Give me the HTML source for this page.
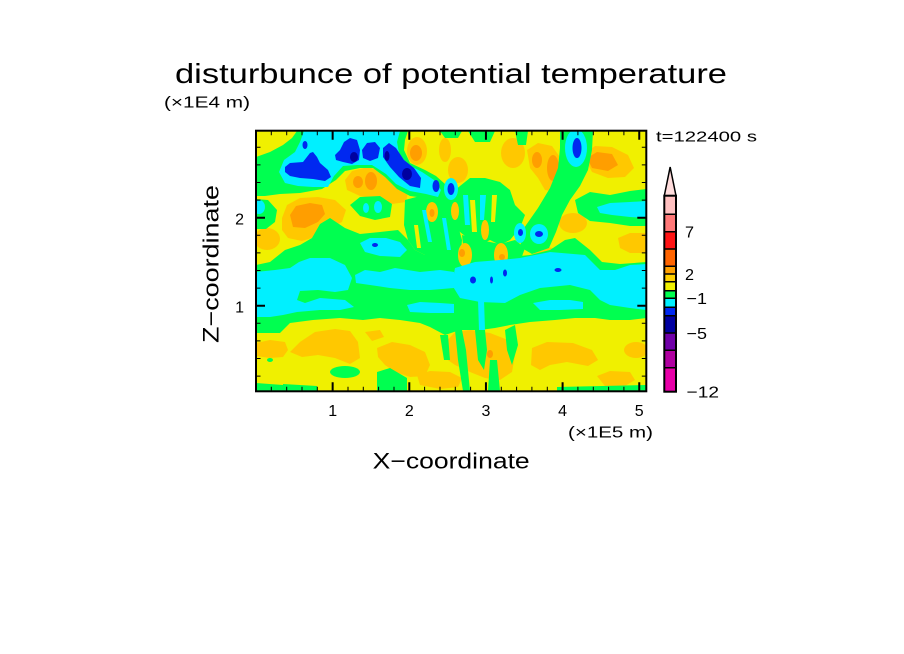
<!DOCTYPE html>
<html><head><meta charset="utf-8"><style>
html,body{margin:0;padding:0;background:#fff;}
svg{display:block;}
text{font-family:"Liberation Sans",sans-serif;fill:#000;}
</style></head><body>
<svg width="904" height="654" viewBox="0 0 904 654" xmlns="http://www.w3.org/2000/svg">
<defs><clipPath id="cp"><rect x="256" y="130.7" width="390.3" height="260.6"/></clipPath></defs>
<rect width="904" height="654" fill="#fff"/>
<text x="175" y="83" font-size="27.5" textLength="552" lengthAdjust="spacingAndGlyphs">disturbunce of potential temperature</text>
<text x="164" y="107.5" font-size="15.5" textLength="86" lengthAdjust="spacingAndGlyphs">(×1E4 m)</text>
<text x="656" y="141.7" font-size="15" textLength="101" lengthAdjust="spacingAndGlyphs">t=122400 s</text>

<g clip-path="url(#cp)">
<rect x="250" y="125" width="400" height="270" fill="#F0F000"/>
<!-- light orange -->
<g fill="#FFC800">
<ellipse cx="417" cy="151" rx="10" ry="14"/>
<polygon points="345,180 352,171 368,167 385,172 400,182 408,192 406,202 392,204 375,199 360,196 347,190"/>
<polygon points="282,218 287,205 300,198 318,197 335,200 346,210 342,222 330,228 318,236 302,241 288,238 282,230"/>
<ellipse cx="267" cy="239" rx="13" ry="11"/>
<ellipse cx="328" cy="240" rx="9" ry="6"/>
<polygon points="527,150 538,143 552,146 562,160 562,180 556,192 545,190 538,178 530,168"/>
<ellipse cx="513" cy="153" rx="12" ry="15"/>
<polygon points="583,155 595,146 612,147 628,155 634,168 625,177 608,178 592,172"/>
<ellipse cx="458" cy="170" rx="10" ry="13"/>
<ellipse cx="573" cy="223" rx="14" ry="10"/>
<polygon points="618,238 630,233 647,233 647,253 630,253 620,248"/>
<ellipse cx="545" cy="252" rx="12" ry="5"/>
<ellipse cx="445" cy="150" rx="6" ry="12"/>
<polygon points="256,343 270,340 285,342 288,350 283,357 270,358 256,356"/>
<polygon points="290,352 300,342 315,332 335,329 350,331 358,342 360,358 350,364 335,358 318,355 302,357"/>
<polygon points="365,332 380,330 384,337 372,341"/>
<polygon points="377,348 392,342 410,345 425,352 430,365 425,376 410,377 395,372 385,365 378,357"/>
<polygon points="443,345 455,332 470,330 490,333 508,340 515,355 512,372 500,380 485,378 470,372 455,365 445,358"/>
<polygon points="532,348 547,342 573,343 592,350 598,360 588,366 567,362 550,365 540,370 531,365"/>
<polygon points="597,376 610,371 630,372 635,380 625,386 605,386"/>
<ellipse cx="636" cy="350" rx="12" ry="8"/>
<polygon points="417,375 430,371 450,372 462,378 458,387 440,389 420,385"/>
</g>
<!-- dark orange -->
<g fill="#FF9E00">
<ellipse cx="416" cy="153" rx="6" ry="8"/>
<ellipse cx="358" cy="182" rx="5" ry="6"/>
<ellipse cx="371" cy="181" rx="6" ry="9"/>
<polygon points="290,215 296,206 310,203 322,205 325,214 318,222 305,228 293,227"/>
<ellipse cx="537" cy="160" rx="5" ry="8"/>
<ellipse cx="553" cy="168" rx="6" ry="13"/>
<polygon points="587,158 597,152 612,154 618,165 608,171 592,168"/>
<ellipse cx="490" cy="354" rx="3" ry="4"/>
</g>
<!-- green -->
<g fill="#00FF50">
<polygon points="256,157 270,152 283,145 292,138 297,131 408,131 405,140 404,150 410,163 425,170 436,176 445,184 448,196 440,201 425,198 410,196 397,189 385,177 373,168 360,168 345,171 336,180 322,189 300,193 280,194 265,196 256,196"/>
<polygon points="350,205 360,197 380,196 392,204 390,217 375,220 360,216"/>
<polygon points="256,199 268,200 277,210 275,222 266,229 256,229"/>
<polygon points="440,131 462,131 458,138 445,138"/>
<polygon points="468,131 495,131 490,142 475,142"/>
<polygon points="515,131 528,131 526,145 518,145"/>
<polygon points="560,131 593,131 592,150 588,170 580,186 570,200 562,215 556,232 549,248 532,254 520,247 524,228 538,208 550,188 558,168 560,148"/>
<polygon points="575,200 590,192 610,195 630,191 647,189 647,226 630,226 610,223 590,221 578,213"/>
<polygon points="440,200 448,196 460,186 470,178 485,178 500,182 510,190 515,205 525,215 520,228 510,240 500,245 490,240 480,245 470,240 460,232 450,222 442,212"/>
<polygon points="405,200 420,196 440,200 455,215 462,240 460,262 440,258 425,255 415,250 408,240 404,225"/>
<polygon points="462,235 480,240 500,244 515,240 525,248 520,262 500,265 480,265 465,263"/>
<polygon points="256,265 270,262 285,250 300,245 312,238 320,224 330,218 345,228 360,234 380,232 398,230 408,240 415,250 425,255 440,250 455,245 470,262 490,262 510,257 530,255 550,250 565,240 575,238 590,250 602,262 620,264 647,262 647,318 630,320 610,320 595,318 575,318 555,320 530,322 510,325 495,328 480,330 460,330 445,335 430,327 420,323 400,320 380,318 363,320 340,318 313,320 290,323 280,333 256,333"/>
<polygon points="455,330 462,330 466,350 470,391 463,391 458,360"/>
<polygon points="475,330 485,330 487,350 484,370 478,360"/>
<polygon points="490,360 497,360 500,391 488,391"/>
<polygon points="505,330 515,325 518,345 512,365 507,350"/>
<polygon points="440,335 448,335 450,360 444,360"/>
<ellipse cx="345" cy="372" rx="15" ry="6"/>
<polygon points="256,383 283,385 283,392 256,392"/>
<polygon points="283,384 317,386 317,392 283,392"/>
<polygon points="377,372 390,368 407,378 407,392 377,392"/>
<polygon points="557,387 647,385 647,392 557,392"/>
<ellipse cx="270" cy="360" rx="3" ry="2"/>
</g>
<!-- fan orange streaks on top of green -->
<g fill="#FFC800">
<ellipse cx="465" cy="255" rx="7" ry="12"/>
<ellipse cx="501" cy="255" rx="7" ry="12"/>
<ellipse cx="455" cy="211" rx="4" ry="9"/>
<ellipse cx="432" cy="212" rx="6" ry="10"/>
<ellipse cx="485" cy="230" rx="4" ry="10"/>
</g>
<g fill="#FF9E00">
<ellipse cx="462" cy="253" rx="3" ry="4"/>
<ellipse cx="502" cy="257" rx="3" ry="3"/>
<ellipse cx="432" cy="213" rx="2.5" ry="4"/>
</g>
<g fill="#F0F000">
<polygon points="470,200 475,200 477,232 472,232"/>
<polygon points="492,195 497,195 495,222 491,222"/>
<polygon points="414,225 418,225 421,248 417,248"/>
</g>
<!-- cyan -->
<g fill="#00F0FF">
<polygon points="279,172 284,160 295,152 300,142 304,131 400,131 397,142 399,153 407,164 422,172 434,180 441,190 438,197 426,194 410,191 396,184 386,174 372,165 357,165 343,166 334,176 328,187 313,187 298,186 285,183"/>
<ellipse cx="259" cy="207" rx="6" ry="7"/>
<ellipse cx="366" cy="208" rx="3" ry="5"/>
<ellipse cx="378" cy="207" rx="4" ry="6"/>
<polygon points="360,243 370,238 386,238 400,242 407,250 400,257 380,256 365,252"/>
<polygon points="256,272 275,270 290,268 299,262 310,258 330,258 345,265 352,278 348,290 335,292 318,290 300,291 297,300 305,303 320,298 345,300 354,307 340,310 320,310 297,312 283,315 270,317 256,317"/>
<polygon points="355,275 365,270 380,272 395,268 420,272 440,270 454,272 454,288 430,290 410,290 390,288 370,285 356,283"/>
<polygon points="407,305 420,302 440,303 454,304 454,313 430,313 410,312"/>
<polygon points="455,268 475,262 500,260 520,258 550,252 585,255 595,265 600,270 615,270 630,265 647,264 647,310 630,308 610,305 600,300 590,290 570,285 540,288 520,295 505,303 480,302 460,298 452,285"/>
<polygon points="533,303 550,300 570,300 583,302 583,309 560,310 540,310"/>
<polygon points="597,207 610,203 630,202 647,201 647,218 630,217 612,215 600,213"/>
<ellipse cx="451" cy="189" rx="7" ry="11"/>
<ellipse cx="520" cy="233" rx="6" ry="10"/>
<ellipse cx="539" cy="234" rx="9" ry="10"/>
<ellipse cx="576" cy="148" rx="11" ry="19"/>
<polygon points="463,195 468,195 470,225 465,225"/>
<polygon points="480,195 486,195 484,220 480,220"/>
<polygon points="478,300 484,300 485,330 479,330"/>
<polygon points="422,210 426,210 432,242 428,242"/>
<polygon points="442,218 446,218 451,250 447,250"/>
</g>
<!-- blue -->
<g fill="#0028F0">
<polygon points="285,167 290,163 303,162 310,153 313,152 317,157 320,163 328,170 331,177 325,181 313,179 300,178 290,176 285,172"/>
<ellipse cx="305" cy="145" rx="2.5" ry="4"/>
<polygon points="335,155 340,150 344,142 350,138 357,140 360,150 359,160 352,164 343,162 336,160"/>
<polygon points="362,150 367,143 375,142 380,148 378,158 370,161 363,158"/>
<polygon points="383,148 389,143 396,148 404,160 414,168 421,178 420,188 410,186 399,177 390,167 383,157"/>
<ellipse cx="436" cy="186" rx="3.5" ry="6"/>
<ellipse cx="451" cy="189" rx="3.5" ry="6"/>
<ellipse cx="577" cy="148" rx="4.5" ry="10"/>
<ellipse cx="520.5" cy="232.5" rx="2.5" ry="3.5"/>
<ellipse cx="539" cy="234" rx="4" ry="3"/>
<ellipse cx="375" cy="245" rx="3" ry="2"/>
<ellipse cx="473" cy="280" rx="3" ry="3.5"/>
<ellipse cx="491.5" cy="280" rx="1.5" ry="3.5"/>
<ellipse cx="505" cy="273" rx="2" ry="3.5"/>
<ellipse cx="558" cy="270" rx="3.5" ry="2"/>
</g>
<g fill="#0000A0">
<ellipse cx="354" cy="157" rx="4" ry="5"/>
<ellipse cx="387" cy="156" rx="2.5" ry="5"/>
<ellipse cx="407" cy="174" rx="5" ry="6"/>
</g>
</g>

<!-- frame -->
<rect x="256" y="130.7" width="390.3" height="260.6" fill="none" stroke="#000" stroke-width="2"/>
<!-- ticks -->
<g stroke="#000" stroke-width="1">
<path d="M271.3,391.3v-4.5M286.7,391.3v-4.5M302,391.3v-4.5M317.3,391.3v-4.5M348,391.3v-4.5M363.3,391.3v-4.5M378.6,391.3v-4.5M394,391.3v-4.5M424.6,391.3v-4.5M440,391.3v-4.5M455.3,391.3v-4.5M470.6,391.3v-4.5M501.3,391.3v-4.5M516.6,391.3v-4.5M531.9,391.3v-4.5M547.3,391.3v-4.5M577.9,391.3v-4.5M593.3,391.3v-4.5M608.6,391.3v-4.5M623.9,391.3v-4.5"/>
<path d="M271.3,130.7v4.5M286.7,130.7v4.5M302,130.7v4.5M317.3,130.7v4.5M348,130.7v4.5M363.3,130.7v4.5M378.6,130.7v4.5M394,130.7v4.5M424.6,130.7v4.5M440,130.7v4.5M455.3,130.7v4.5M470.6,130.7v4.5M501.3,130.7v4.5M516.6,130.7v4.5M531.9,130.7v4.5M547.3,130.7v4.5M577.9,130.7v4.5M593.3,130.7v4.5M608.6,130.7v4.5M623.9,130.7v4.5"/>
<path d="M256,376.1h4.5M256,358.5h4.5M256,340.9h4.5M256,323.3h4.5M256,288.1h4.5M256,270.5h4.5M256,252.9h4.5M256,235.3h4.5M256,200.1h4.5M256,182.5h4.5M256,164.9h4.5M256,147.3h4.5"/>
<path d="M646.3,376.1h-4.5M646.3,358.5h-4.5M646.3,340.9h-4.5M646.3,323.3h-4.5M646.3,288.1h-4.5M646.3,270.5h-4.5M646.3,252.9h-4.5M646.3,235.3h-4.5M646.3,200.1h-4.5M646.3,182.5h-4.5M646.3,164.9h-4.5M646.3,147.3h-4.5"/>
</g>
<g stroke="#000" stroke-width="2">
<path d="M332.65,391.3v-9M409.3,391.3v-9M485.95,391.3v-9M562.6,391.3v-9M639.25,391.3v-9"/>
<path d="M332.65,130.7v9M409.3,130.7v9M485.95,130.7v9M562.6,130.7v9M639.25,130.7v9"/>
<path d="M256,305.7h9M256,217.7h9M646.3,305.7h-9M646.3,217.7h-9"/>
</g>
<!-- tick labels -->
<g font-size="16" text-anchor="middle">
<text x="332.65" y="416">1</text>
<text x="409.3" y="416">2</text>
<text x="485.95" y="416">3</text>
<text x="562.6" y="416">4</text>
<text x="639.25" y="416">5</text>
</g>
<g font-size="16" text-anchor="end">
<text x="244" y="312.5">1</text>
<text x="244" y="224.5">2</text>
</g>
<text x="568" y="437.5" font-size="15.5" textLength="85" lengthAdjust="spacingAndGlyphs">(×1E5 m)</text>
<text x="372.7" y="468.3" font-size="22" textLength="157" lengthAdjust="spacingAndGlyphs">X−coordinate</text>
<text transform="translate(218.5,264) rotate(-90)" x="0" y="0" font-size="22" text-anchor="middle" textLength="158" lengthAdjust="spacingAndGlyphs">Z−coordinate</text>

<!-- colorbar -->
<g>
<polygon points="664.3,195.7 676,195.7 670.15,167" fill="#FFDCDC" stroke="#000" stroke-width="1.5"/>
<rect x="664.3" y="195.7" width="11.7" height="18.6" fill="#FFC0C0"/>
<rect x="664.3" y="214.3" width="11.7" height="17.4" fill="#FF7878"/>
<rect x="664.3" y="231.7" width="11.7" height="17.3" fill="#FF1414"/>
<rect x="664.3" y="249" width="11.7" height="17.3" fill="#FF6400"/>
<rect x="664.3" y="266.3" width="11.7" height="7.7" fill="#FFA000"/>
<rect x="664.3" y="274" width="11.7" height="7.7" fill="#FFD000"/>
<rect x="664.3" y="281.7" width="11.7" height="9" fill="#F0F000"/>
<rect x="664.3" y="290.7" width="11.7" height="7.6" fill="#00FF50"/>
<rect x="664.3" y="298.3" width="11.7" height="9" fill="#00F0FF"/>
<rect x="664.3" y="307.3" width="11.7" height="8.4" fill="#0028F0"/>
<rect x="664.3" y="315.7" width="11.7" height="17.3" fill="#0000A0"/>
<rect x="664.3" y="333" width="11.7" height="17.3" fill="#7000A8"/>
<rect x="664.3" y="350.3" width="11.7" height="17.4" fill="#B000A0"/>
<rect x="664.3" y="367.7" width="11.7" height="24" fill="#E800A8"/>
<g stroke="#000" stroke-width="1.5">
<path d="M664.3,214.3h11.7M664.3,231.7h11.7M664.3,249h11.7M664.3,266.3h11.7M664.3,274h11.7M664.3,281.7h11.7M664.3,290.7h11.7M664.3,298.3h11.7M664.3,307.3h11.7M664.3,315.7h11.7M664.3,333h11.7M664.3,350.3h11.7M664.3,367.7h11.7"/>
</g>
<rect x="664.3" y="195.7" width="11.7" height="196" fill="none" stroke="#000" stroke-width="2"/>
</g>
<g font-size="16">
<text x="685" y="237.5" textLength="9" lengthAdjust="spacingAndGlyphs">7</text>
<text x="685" y="280" textLength="9" lengthAdjust="spacingAndGlyphs">2</text>
<text x="686.5" y="304" textLength="20.5" lengthAdjust="spacingAndGlyphs">−1</text>
<text x="686.5" y="339" textLength="20.5" lengthAdjust="spacingAndGlyphs">−5</text>
<text x="686.5" y="397.5" textLength="32.5" lengthAdjust="spacingAndGlyphs">−12</text>
</g>
</svg>
</body></html>
